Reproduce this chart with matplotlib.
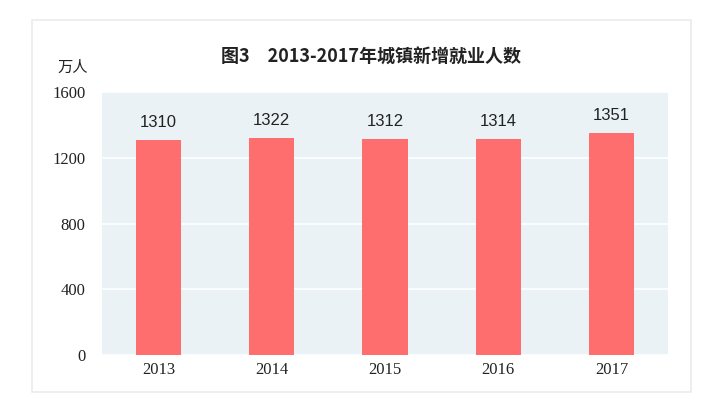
import matplotlib
matplotlib.use("Agg")
import matplotlib.pyplot as plt
from matplotlib.patches import Rectangle

years = ["2013", "2014", "2015", "2016", "2017"]
values = [1310, 1322, 1312, 1314, 1351]
yticks = [0, 400, 800, 1200, 1600]
title = "图3　2013-2017年城镇新增就业人数"
unit = "万人"

plt.rcParams['font.family'] = ['Noto Sans CJK SC', 'DejaVu Sans']

W, H = 724, 411
fig = plt.figure(figsize=(W / 100, H / 100), dpi=100)
fig.patch.set_facecolor('white')

# outer frame
fig.patches.append(Rectangle((32 / W, 1 - 392 / H), (691 - 32) / W, (392 - 20) / H,
                             transform=fig.transFigure, fill=False,
                             edgecolor='#EBEBEB', linewidth=1.2, zorder=0))

ax = fig.add_axes([102 / W, 1 - 355 / H, (668 - 102) / W, (355 - 92) / H])
ax.set_facecolor('#EAF2F6')
x = list(range(len(years)))
ax.bar(x, values, width=0.4, color='#FF6E6E', zorder=3)
ax.set_xlim(-0.5, 4.5)
ax.set_ylim(0, 1600)
ax.set_yticks(yticks)
ax.set_yticklabels([str(v) for v in yticks], family=['Liberation Serif'], fontsize=12, color='#222222')
ax.set_xticks(x)
ax.set_xticklabels(years, family=['Liberation Serif'], fontsize=12, color='#222222')
ax.tick_params(length=0, pad=5)
ax.tick_params(axis='y', pad=12)
for s in ax.spines.values():
    s.set_visible(False)
ax.grid(axis='y', color='white', linewidth=1.2, zorder=1)
ax.set_axisbelow(True)

for xi, v in zip(x, values):
    ax.text(xi, v + 60, str(v), ha='center', va='bottom', fontsize=12,
            family=['Liberation Sans'], color='#222222')

fig.text(73 / W, 1 - 67 / H, unit, ha='center', va='center', fontsize=11, color='#222222')
fig.text(371 / W, 1 - 57 / H, title, ha='center', va='center', fontsize=13,
         fontweight='bold', color='#222222')

fig.savefig('out.png', dpi=100)
